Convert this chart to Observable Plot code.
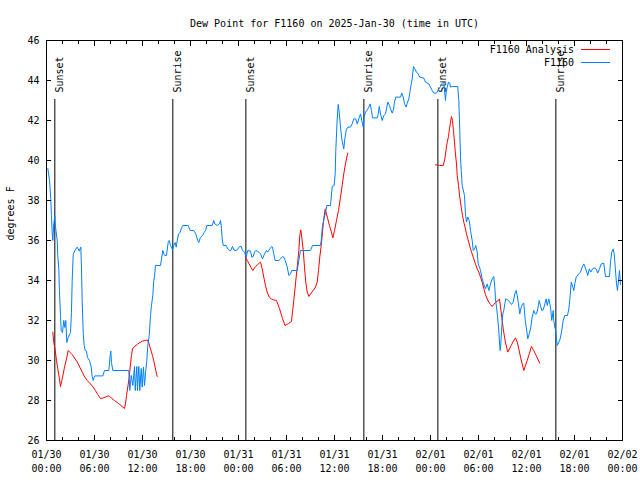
<!DOCTYPE html>
<html><head><meta charset="utf-8">
<script src="https://cdn.jsdelivr.net/npm/d3@7"></script>
<script src="https://cdn.jsdelivr.net/npm/@observablehq/plot@0.6"></script>
<style>body{margin:0;background:#fff} svg{display:block}</style>
</head><body><div id="chart"></div><script>
const titleText = "Dew Point for F1160 on 2025-Jan-30 (time in UTC)";
const yLabel = "degrees F";
const startUTC = Date.UTC(2025, 0, 30, 0, 0);
const endUTC = Date.UTC(2025, 1, 2, 0, 0);
const yTicks = [26, 28, 30, 32, 34, 36, 38, 40, 42, 44, 46];
const xTickHours = [0, 6, 12, 18, 24, 30, 36, 42, 48, 54, 60, 66, 72];
const xMinorTickHours = d3.range(0, 73, 2);
const legendLabels = ["F1160 Analysis", "F1160"];
const seriesColors = ["#ff0000", "#0080ff"];
const sunHours = [1.04, 15.79, 24.92, 39.67, 48.92, 63.67];
const sunLabels = ["Sunset", "Sunrise", "Sunset", "Sunrise", "Sunset", "Sunrise"];

// F1160 station observations: [hours since 01/30 00:00 UTC, dew point F]
const stationSeries = [
[0.17,39.6],[0.38,39.0],[0.54,38.05],[0.62,37.25],[0.71,36.4],[0.79,36.0],[0.91,36.85],[1.04,37.2],[1.12,36.7],[1.34,36.0],
[1.41,35.25],[1.54,34.55],[1.62,33.5],[1.75,32.2],[1.84,31.5],[2.0,31.4],[2.16,32.0],[2.29,31.65],[2.41,32.0],[2.54,30.9],
[2.71,31.15],[3.0,31.4],[3.12,32.4],[3.21,34.0],[3.34,35.3],[3.54,35.5],[3.84,35.67],[4.09,35.47],[4.29,35.67],[4.37,34.67],
[4.46,33.0],[4.59,31.35],[4.71,30.75],[4.84,30.5],[5.0,30.47],[5.12,30.15],[5.37,30.0],[5.59,29.67],[5.71,29.2],[5.84,29.0],
[5.96,29.17],[6.04,29.23],[7.04,29.23],[7.25,29.5],[7.79,29.5],[7.96,30.25],[8.04,30.47],[8.12,29.9],[8.29,29.5],[10.29,29.5],
[10.41,28.5],[10.59,29.25],[10.79,28.75],[11.0,29.7],[11.09,28.5],[11.29,29.7],[11.37,28.5],[11.54,29.7],[11.66,28.5],[11.84,29.6],
[11.96,28.67],[12.12,29.67],[12.25,28.75],[12.41,29.5],[12.54,30.0],[12.66,30.75],[12.84,31.25],[13.0,32.25],[13.12,32.75],[13.29,33.25],
[13.41,34.0],[13.5,34.17],[13.62,34.75],[14.25,34.75],[14.34,35.0],[14.54,35.5],[14.66,35.33],[14.79,35.25],[15.0,35.25],[15.21,35.9],
[15.34,36.0],[15.5,35.75],[15.62,35.67],[15.75,35.53],[15.91,35.75],[16.09,35.9],[16.21,35.67],[16.34,36.0],[16.5,36.33],[16.71,36.4],
[16.84,36.58],[17.04,36.75],[17.71,36.75],[17.96,36.5],[18.41,36.5],[18.66,36.33],[18.91,36.0],[19.04,35.9],[19.21,36.13],[19.5,36.25],
[19.71,36.4],[19.91,36.53],[20.04,36.75],[20.71,36.75],[20.91,37.0],[21.04,36.83],[21.34,36.75],[21.62,36.83],[21.75,37.0],[21.84,36.75],
[21.96,36.08],[22.09,35.75],[22.46,35.75],[22.66,35.58],[22.87,35.5],[23.04,35.5],[23.25,35.7],[23.41,35.53],[23.62,35.5],[23.84,35.53],
[24.12,35.7],[24.34,35.7],[24.5,35.5],[24.75,35.42],[24.96,35.17],[25.16,35.5],[25.5,35.47],[25.66,35.17],[25.84,35.2],[26.0,35.42],
[26.16,35.5],[26.34,35.47],[26.59,35.4],[26.75,35.33],[27.0,35.08],[27.25,35.33],[27.5,35.5],[27.66,35.42],[27.91,35.58],[28.12,35.7],
[28.25,35.67],[28.41,35.33],[28.59,35.0],[29.04,35.0],[29.25,35.08],[29.5,35.2],[29.66,35.17],[29.84,35.0],[30.09,34.67],[30.29,34.25],
[30.5,34.33],[30.66,34.5],[31.34,34.5],[31.54,35.0],[31.75,35.5],[33.0,35.5],[33.25,35.75],[34.25,35.75],[34.34,36.0],[34.5,36.75],
[34.79,37.25],[35.04,37.75],[35.5,37.75],[35.71,38.7],[35.96,38.75],[36.09,39.37],[36.16,40.5],[36.34,42.08],[36.46,42.8],[36.59,42.42],
[36.75,41.67],[36.91,41.08],[37.16,40.58],[37.29,41.08],[37.46,41.5],[37.66,41.67],[38.0,41.67],[38.21,41.83],[38.41,42.08],[38.66,42.08],
[38.84,41.83],[39.04,42.08],[39.25,42.33],[39.41,42.0],[39.59,41.67],[39.71,42.17],[39.87,42.42],[40.09,42.53],[40.29,42.67],[40.46,42.83],
[40.62,42.5],[40.75,42.13],[41.34,42.13],[41.46,42.3],[41.59,42.7],[41.75,42.33],[41.96,42.0],[42.16,42.25],[42.37,42.33],[42.5,42.58],
[42.66,42.92],[42.87,42.75],[43.0,42.58],[43.21,42.37],[43.37,42.53],[43.5,42.92],[43.66,43.17],[44.25,43.17],[44.41,43.37],[44.59,43.17],
[44.75,42.83],[44.96,42.67],[45.09,42.87],[45.29,43.08],[45.46,43.5],[45.59,43.83],[45.71,44.08],[45.87,44.7],[46.04,44.58],[46.25,44.42],
[46.46,44.33],[46.66,44.17],[47.16,44.12],[47.37,43.92],[47.79,43.83],[48.21,43.5],[48.41,43.37],[48.75,43.37],[49.04,43.58],[49.25,43.7],
[49.37,43.83],[49.66,43.92],[49.87,43.0],[49.96,43.42],[50.09,43.67],[50.25,43.92],[50.41,43.87],[50.5,43.67],[50.71,43.7],[51.41,43.7],
[51.54,43.0],[51.66,41.5],[51.75,40.17],[51.84,39.5],[51.96,38.75],[52.25,38.25],[52.37,37.33],[52.5,36.92],[52.66,37.17],[52.84,37.0],
[53.0,36.5],[53.21,36.0],[53.34,35.5],[53.5,35.58],[53.66,35.75],[53.84,35.42],[53.96,34.83],[54.12,34.67],[54.25,34.5],[54.46,34.08],
[54.66,33.83],[54.87,33.58],[55.09,33.83],[55.29,33.5],[55.5,33.83],[55.71,34.08],[55.91,34.2],[56.04,33.67],[56.12,33.08],[56.25,32.67],
[56.37,32.25],[56.5,31.67],[56.62,30.92],[56.71,30.5],[56.79,30.83],[56.91,31.67],[57.04,32.33],[57.16,32.5],[57.29,32.83],[57.41,33.08],
[57.66,33.03],[57.91,32.92],[58.12,32.8],[58.34,32.92],[58.54,33.33],[58.71,33.5],[58.84,33.25],[59.0,32.83],[59.16,32.33],[59.34,32.67],
[59.5,32.83],[59.66,32.87],[59.84,32.0],[60.0,31.58],[60.16,31.08],[60.34,31.33],[60.5,31.58],[60.71,32.17],[60.91,32.5],[61.09,32.33],
[61.25,32.33],[61.41,32.58],[61.59,33.0],[61.75,32.75],[61.91,32.5],[62.09,32.53],[62.29,32.83],[62.46,33.08],[62.59,32.75],[62.79,33.08],
[63.0,32.67],[63.16,32.0],[63.34,32.5],[63.41,32.0],[63.54,31.67],[63.66,31.5],[63.75,31.08],[63.84,30.75],[64.04,30.92],[64.21,31.08],
[64.41,31.5],[64.59,32.0],[64.79,32.25],[65.12,32.25],[65.29,32.58],[65.41,33.0],[65.59,33.92],[65.79,33.67],[65.91,33.5],[66.04,33.83],
[66.21,34.17],[66.54,34.33],[66.75,34.42],[66.96,34.67],[67.16,34.83],[67.41,34.58],[67.66,34.25],[67.84,34.58],[68.04,34.42],[68.25,34.58],
[68.46,34.63],[68.71,34.58],[68.91,34.37],[69.12,34.58],[69.34,34.83],[69.66,34.87],[69.87,34.2],[70.37,34.2],[70.5,34.92],[70.66,35.42],
[70.84,35.58],[70.96,35.33],[71.09,34.67],[71.25,33.83],[71.37,33.5],[71.5,34.0],[71.62,34.5],[71.75,33.8]
];

// F1160 Analysis: [hours since 01/30 00:00 UTC, dew point F]; null marks a gap
const analysisSeries = [
[0.79,31.42],[0.91,30.92],[1.09,30.5],[1.25,30.0],[1.41,29.58],[1.59,29.17],[1.75,28.7],[1.91,29.0],[2.09,29.33],[2.25,29.67],
[2.5,30.08],[2.71,30.5],[2.91,30.42],[3.21,30.3],[3.5,30.13],[3.84,29.92],[4.16,29.67],[4.46,29.42],[4.79,29.17],[5.09,29.0],
[5.5,28.83],[5.84,28.67],[6.12,28.5],[6.41,28.3],[6.75,28.1],[7.09,28.13],[7.37,28.17],[7.71,28.23],[7.91,28.2],[8.16,28.1],
[8.5,28.0],[8.84,27.9],[9.16,27.8],[9.46,27.7],[9.75,27.6],[9.87,27.83],[10.0,28.25],[10.16,28.67],[10.34,29.17],[10.5,29.83],
[10.62,30.25],[10.75,30.58],[11.0,30.7],[11.34,30.8],[11.66,30.9],[12.0,30.97],[12.34,31.0],[12.59,31.03],[12.75,30.92],[13.0,30.58],
[13.25,30.25],[13.5,29.83],[13.66,29.5],[13.84,29.2],
[13.9,null],
[24.87,35.17],[25.09,35.0],[25.34,34.83],[25.59,34.63],[25.79,34.5],[26.0,34.63],[26.34,34.78],[26.59,34.87],[26.75,34.92],[26.96,34.58],
[27.16,34.17],[27.37,33.75],[27.59,33.42],[27.84,33.17],[28.09,33.08],[28.41,33.03],[28.75,33.0],[29.12,32.6],[29.5,32.1],[29.81,31.75],
[30.25,31.85],[30.62,31.95],[30.91,33.0],[31.12,33.83],[31.34,34.67],[31.54,35.5],[31.66,36.25],[31.79,36.53],[31.91,36.17],[32.09,35.5],
[32.25,34.67],[32.41,33.92],[32.59,33.42],[32.79,33.2],[33.0,33.33],[33.34,33.5],[33.62,33.67],[33.84,33.92],[34.0,34.5],[34.16,35.17],
[34.34,35.75],[34.5,36.42],[34.66,37.08],[34.84,37.58],[35.0,37.33],[35.16,37.08],[35.37,36.75],[35.62,36.42],[35.79,36.13],[36.0,36.5],
[36.25,37.0],[36.5,37.5],[36.75,38.17],[36.96,38.75],[37.16,39.33],[37.37,39.83],[37.59,40.25],[37.66,40.37],
[37.7,null],
[48.62,39.78],[48.91,39.78],[49.16,39.75],[49.59,39.75],[49.79,40.08],[49.96,40.58],[50.09,40.92],[50.25,41.2],[50.37,41.58],[50.5,41.92],
[50.62,42.2],[50.75,42.0],[50.87,41.5],[51.0,40.92],[51.12,40.33],[51.25,39.83],[51.34,39.25],[51.5,38.75],[51.66,38.17],[51.84,37.67],
[52.0,37.25],[52.16,36.92],[52.34,36.63],[52.5,36.33],[52.66,36.08],[52.84,35.83],[53.0,35.58],[53.21,35.33],[53.41,35.08],[53.62,34.83],
[53.84,34.58],[54.04,34.42],[54.25,34.17],[54.46,33.92],[54.66,33.6],[54.87,33.3],[55.09,33.08],[55.29,32.92],[55.5,32.8],[55.71,32.7],
[55.91,32.8],[56.16,32.92],[56.41,32.97],[56.62,33.08],[56.75,32.67],[56.91,32.17],[57.09,31.58],[57.25,31.17],[57.41,30.83],[57.66,30.42],
[57.87,30.58],[58.09,30.75],[58.29,30.92],[58.62,31.13],[58.84,30.92],[59.04,30.58],[59.25,30.17],[59.46,29.83],[59.66,29.5],[59.87,29.75],
[60.09,30.0],[60.34,30.33],[60.62,30.7],[60.91,30.5],[61.21,30.25],[61.46,30.03],[61.66,29.87]
];

const toDate = h => new Date(startUTC + h * 3600000);
const station = stationSeries.map(([h, v]) => ({t: toDate(h), v}));
const analysis = analysisSeries.map(([h, v]) => ({t: toDate(h), v: v == null ? NaN : v}));
const sunEvents = sunHours.map((h, i) => ({t: toDate(h), label: sunLabels[i]}));
const majorTicks = xTickHours.map(toDate);
const minorTicks = xMinorTickHours.map(toDate);
const fmtDay = d3.utcFormat("%m/%d");
const fmtTime = d3.utcFormat("%H:%M");

function legend(index, scales, values, dims) {
  const g = d3.create("svg:g")
    .attr("font-family", "'DejaVu Sans Mono', monospace")
    .attr("font-size", 10);
  const right = dims.width - dims.marginRight;
  legendLabels.forEach((lab, i) => {
    const y = dims.marginTop + 9.5 + i * 13;
    g.append("text").attr("x", right - 48).attr("y", y).attr("dy", "0.32em")
      .attr("text-anchor", "end").attr("fill", "black").text(lab);
    g.append("line").attr("x1", right - 41).attr("x2", right - 12)
      .attr("y1", y).attr("y2", y).attr("stroke", seriesColors[i]).attr("stroke-width", 1);
  });
  return g.node();
}

const chart = Plot.plot({
  width: 640,
  height: 480,
  marginLeft: 46,
  marginRight: 18,
  marginTop: 40,
  marginBottom: 40,
  style: {fontFamily: "'DejaVu Sans Mono', monospace", fontSize: "10px", background: "white", color: "black"},
  x: {type: "utc", domain: [new Date(startUTC), new Date(endUTC)], axis: null},
  y: {domain: [26, 46], axis: null},
  marks: [
    Plot.ruleX(sunEvents, {x: "t", insetTop: 59, stroke: "black", strokeWidth: 1}),
    Plot.text(sunEvents, {x: "t", text: "label", frameAnchor: "top", dy: 52, dx: 1, rotate: -90, textAnchor: "start", fill: "black"}),
    Plot.line(analysis, {x: "t", y: "v", stroke: seriesColors[0], strokeWidth: 1}),
    Plot.line(station, {x: "t", y: "v", stroke: seriesColors[1], strokeWidth: 1}),
    Plot.frame({stroke: "black"}),
    Plot.axisY({anchor: "left", ticks: yTicks, tickSize: 0, tickPadding: 7, label: null, tickFormat: d => String(d)}),
    Plot.axisY({anchor: "left", ticks: yTicks, tickSize: -5, fill: "none", label: null}),
    Plot.axisY({anchor: "right", ticks: yTicks, tickSize: -5, fill: "none", label: null}),
    Plot.axisX({anchor: "bottom", ticks: majorTicks, tickSize: 0, tickPadding: 8, lineHeight: 1.4, label: null,
      tickFormat: d => fmtDay(d) + "\n" + fmtTime(d)}),
    Plot.axisX({anchor: "bottom", ticks: majorTicks, tickSize: -5, fill: "none", label: null}),
    Plot.axisX({anchor: "top", ticks: majorTicks, tickSize: -5, fill: "none", label: null}),
    Plot.axisX({anchor: "bottom", ticks: minorTicks, tickSize: -3, fill: "none", label: null}),
    Plot.axisX({anchor: "top", ticks: minorTicks, tickSize: -3, fill: "none", label: null}),
    Plot.text([yLabel], {text: d => d, frameAnchor: "left", dx: -36, rotate: -90, fill: "black"}),
    Plot.text([titleText], {text: d => d, frameAnchor: "top", dy: -21, fill: "black"}),
    legend
  ]
});
document.getElementById("chart").appendChild(chart);
</script></body></html>
